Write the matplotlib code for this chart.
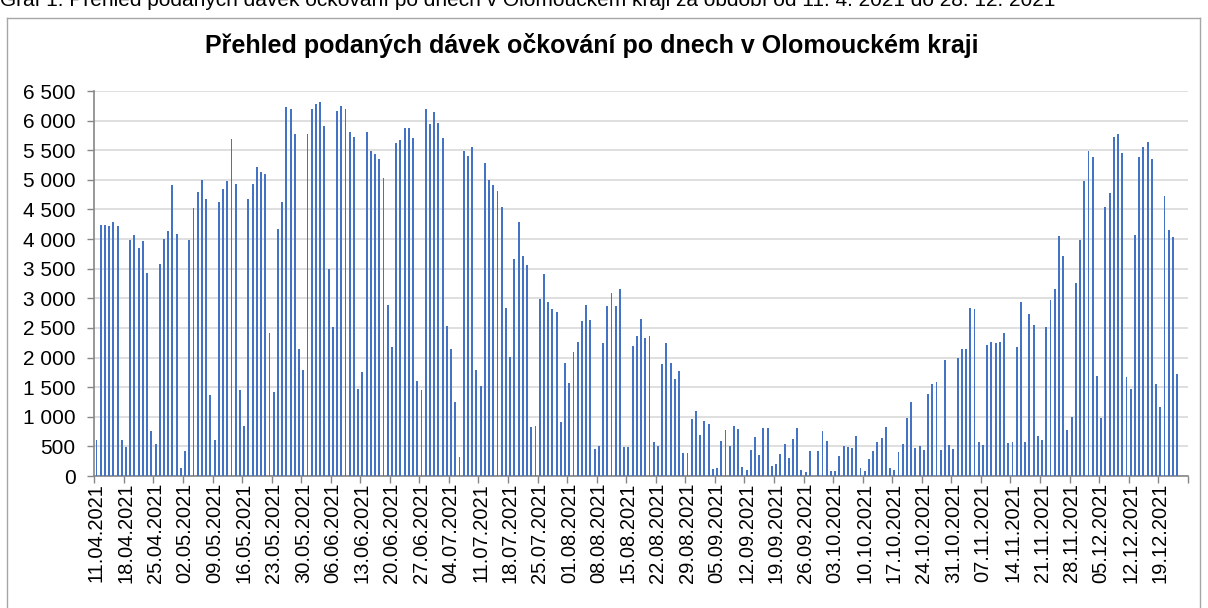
import numpy as np
import pandas as pd
import matplotlib
matplotlib.use("Agg")
import matplotlib.pyplot as plt
from matplotlib.lines import Line2D

plt.rcParams["font.family"] = ["Liberation Sans", "DejaVu Sans"]

# daily doses, 11.04.2021 onwards
doses = [
    610, 4230, 4230, 4220, 4290, 4220, 600, 495, 3980, 4070, 3845, 3970, 3430, 755,
    540, 3575, 4000, 4135, 4905, 4090, 135, 417, 3981, 4527, 4803, 4994, 4685, 1363,
    603, 4623, 4854, 4977, 5687, 4932, 1458, 850, 4673, 4938, 5225, 5129, 5096, 2421,
    1413, 4172, 4623, 6233, 6199, 5766, 2151, 1796, 5772, 6194, 6278, 6323, 5901, 3497,
    2523, 6160, 6250, 6199, 5800, 5721, 1464, 1751, 5800, 5479, 5440, 5344, 5034, 2894,
    2173, 5625, 5681, 5878, 5878, 5704, 1599, 1458, 6194, 5935, 6149, 5963, 5715, 2528,
    2140, 1256, 321, 5490, 5400, 5557, 1796, 1515, 5293, 5000, 4910, 4809, 4544, 2838,
    2016, 3671, 4285, 3722, 3570, 834, 839, 2995, 3406, 2945, 2821, 2776, 912, 1914,
    1565, 2095, 2264, 2613, 2883, 2635, 450, 512, 2247, 2866, 3086, 2866, 3164, 484,
    484, 2202, 2365, 2658, 2326, 2371, 580, 512, 1892, 2252, 1914, 1639, 1774, 394,
    394, 957, 1098, 693, 935, 878, 113, 135, 591, 783, 507, 850, 788, 152,
    96, 445, 653, 349, 805, 811, 169, 197, 377, 546, 304, 625, 805, 96,
    73, 420, 0, 417, 755, 586, 79, 79, 344, 501, 484, 467, 681, 130,
    90, 287, 428, 569, 647, 828, 135, 101, 400, 546, 985, 1244, 473, 501,
    434, 1391, 1560, 1594, 445, 1966, 529, 450, 1988, 2151, 2140, 2838, 2827, 574,
    529, 2219, 2269, 2252, 2258, 2421, 557, 569, 2173, 2933, 569, 2736, 2545, 681,
    614, 2517, 2967, 3164, 4060, 3722, 771, 1002, 3254, 3992, 4977, 5495, 5394, 1684,
    980, 4550, 4775, 5721, 5771, 5450, 1672, 1464, 4071, 5383, 5557, 5647, 5349, 1560,
    1171, 4724, 4150, 4037, 1717, 0, 0,
]

dates = pd.date_range("2021-04-11", periods=len(doses), freq="D")

tick_labels = [
    "11.04.2021", "18.04.2021", "25.04.2021", "02.05.2021", "09.05.2021", "16.05.2021",
    "23.05.2021", "30.05.2021", "06.06.2021", "13.06.2021", "20.06.2021", "27.06.2021",
    "04.07.2021", "11.07.2021", "18.07.2021", "25.07.2021", "01.08.2021", "08.08.2021",
    "15.08.2021", "22.08.2021", "29.08.2021", "05.09.2021", "12.09.2021", "19.09.2021",
    "26.09.2021", "03.10.2021", "10.10.2021", "17.10.2021", "24.10.2021", "31.10.2021",
    "07.11.2021", "14.11.2021", "21.11.2021", "28.11.2021", "05.12.2021", "12.12.2021",
    "19.12.2021",
]

y_ticks = list(range(0, 6501, 500))

fig = plt.figure(figsize=(12.08, 6.08), dpi=100)
ax = fig.add_axes([0.0781, 0.2171, 0.9051, 0.6332])

x = np.arange(len(dates))
ax.bar(x, doses, width=0.45, color="#4472C4", zorder=3)

ax.set_xlim(-0.5, len(dates) - 0.5)
ax.set_ylim(0, 6500)

ax.set_yticks(y_ticks)
ax.set_yticklabels([f"{v:,}".replace(",", " ") for v in y_ticks], fontsize=15)
ax.yaxis.grid(True, color="#d9d9d9", linewidth=1.2, zorder=0)
ax.tick_params(axis="y", length=5, color="#868686", width=1, pad=8.5)

# labels sit on the category, tick marks on week boundaries
ax.set_xticks(np.arange(0, len(dates), 7)[:len(tick_labels)])
ax.set_xticklabels(tick_labels, rotation=90, fontsize=14.5)
ax.set_xticks(np.arange(-0.5, len(dates), 7), minor=True)
ax.tick_params(axis="x", which="major", length=0, pad=5)
ax.tick_params(axis="x", which="minor", length=5, color="#868686", width=1)

for s in ["top", "right"]:
    ax.spines[s].set_visible(False)
for s in ["left", "bottom"]:
    ax.spines[s].set_color("#868686")
    ax.spines[s].set_linewidth(1.2)

fig.text(0.4897, 1 - 46 / 608, "Přehled podaných dávek očkování po dnech v Olomouckém kraji",
         ha="center", va="center", fontsize=18, fontweight="bold")

# caption above the chart box, cut off at the top edge
fig.text(0.0, 1.0, "Graf 1: Přehled podaných dávek očkování po dnech v Olomouckém kraji "
         "za období od 11. 4. 2021 do 28. 12. 2021",
         ha="left", va="center", fontsize=15)

# chart frame
bx0, bx1, by = 7 / 1208, 1200 / 1208, 1 - 18 / 608
for xs, ys in [([bx0, bx0], [0, by]), ([bx0, bx1], [by, by]), ([bx1, bx1], [by, 0])]:
    fig.add_artist(Line2D(xs, ys, color="#a6a6a6", linewidth=1, transform=fig.transFigure))

fig.savefig("out.png", dpi=100)
